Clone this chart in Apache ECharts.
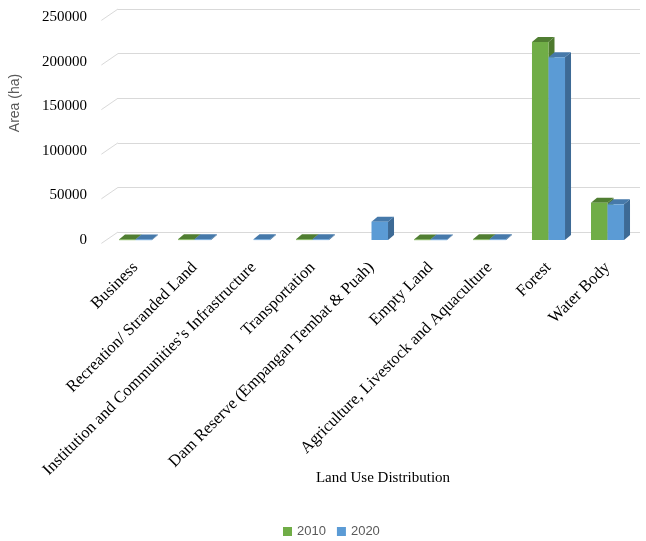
<!DOCTYPE html>
<html>
<head>
<meta charset="utf-8">
<script src="https://cdn.jsdelivr.net/npm/echarts@6/dist/echarts.min.js"></script>
<style>
html,body{margin:0;padding:0;background:#fff;}
#chart{width:646px;height:541px;}
</style>
</head>
<body>
<div id="chart"></div>
<script>
const categories = [
  'Business',
  'Recreation/ Stranded Land',
  'Institution and Communities\u2019s Infrastructure',
  'Transportation',
  'Dam Reserve (Empangan Tembat & Puah)',
  'Empty Land',
  'Agriculture, Livestock and Aquaculture',
  'Forest',
  'Water Body'
];
const values2010 = [700, 800, null, 800, null, 700, 800, 222000, 41800];
const values2020 = [700, 800, 800, 800, 20500, 700, 800, 205000, 40000];
const yTicks = [0, 50000, 100000, 150000, 200000, 250000];
const seriesNames = ['2010', '2020'];

const palette = {
  '2010': {front: '#70AD47', top: '#507E32', side: '#4E7A2E'},
  '2020': {front: '#5B9BD5', top: '#4679AA', side: '#3D6A95'}
};

function barRenderer(seriesIdx, name) {
  return function (params, api) {
    const v = api.value(1);
    if (v === null || v === undefined || isNaN(v)) return null;
    const idx = api.value(0);
    const base = api.coord([idx, 0]);
    const topPt = api.coord([idx, v]);
    const catW = api.size([1, 0])[0];
    const w = catW * 0.28;
    const dx = 6, dy = -5;
    const x = base[0] - w + seriesIdx * w;
    const y0 = base[1];
    const y1 = topPt[1];
    const c = palette[name];
    return {
      type: 'group',
      children: [
        {type: 'polygon', shape: {points: [[x + w, y1], [x + w + dx, y1 + dy], [x + w + dx, y0 + dy], [x + w, y0]]}, style: {fill: c.side}},
        {type: 'polygon', shape: {points: [[x, y1], [x + w, y1], [x + w + dx, y1 + dy], [x + dx, y1 + dy]]}, style: {fill: c.top}},
        {type: 'rect', shape: {x: x, y: y1, width: w, height: Math.max(y0 - y1, 0.8)}, style: {fill: c.front}}
      ]
    };
  };
}

const chart = echarts.init(document.getElementById('chart'), null, {renderer: 'canvas'});
const option = {
  animation: false,
  backgroundColor: '#fff',
  grid: [
    {left: 106, right: 9, top: 17, bottom: 301},
    {left: 118, right: 6, top: 9, bottom: 309}
  ],
  legend: {
    data: seriesNames,
    left: 278,
    top: 520,
    icon: 'rect',
    itemWidth: 9,
    itemHeight: 9,
    itemGap: 11,
    textStyle: {fontFamily: 'Liberation Sans', fontSize: 13, color: '#595959'}
  },
  xAxis: [
    {
      type: 'category', data: categories, gridIndex: 0,
      axisLine: {show: false}, axisTick: {show: false}, splitLine: {show: false},
      axisLabel: {rotate: 45, interval: 0, margin: 25, fontFamily: 'Liberation Serif', fontSize: 16.5, color: '#000'}
    },
    {type: 'value', gridIndex: 1, min: 0, max: 1, show: false}
  ],
  yAxis: [
    {
      type: 'value', gridIndex: 0, min: 0, max: 250000, interval: 50000,
      axisLine: {show: false}, axisTick: {show: false}, splitLine: {show: false},
      axisLabel: {margin: 19, fontFamily: 'Liberation Serif', fontSize: 15, color: '#000', formatter: function (v) { return String(v); }}
    },
    {
      type: 'value', gridIndex: 1, min: 0, max: 250000, interval: 50000,
      axisLine: {show: false}, axisTick: {show: false}, axisLabel: {show: false},
      splitLine: {show: true, lineStyle: {color: '#D9D9D9', width: 1}}
    }
  ],
  graphic: [
    {type: 'text', x: 15, y: 103, rotation: Math.PI / 2,
     style: {text: 'Area (ha)', textAlign: 'center', textVerticalAlign: 'middle', fontFamily: 'Liberation Sans', fontSize: 14, fill: '#595959'}},
    {type: 'text', x: 383, y: 478,
     style: {text: 'Land Use Distribution', textAlign: 'center', textVerticalAlign: 'middle', fontFamily: 'Liberation Serif', fontSize: 15, fill: '#000'}}
  ],
  series: [
    {
      type: 'custom', name: 'gridSlant', xAxisIndex: 1, yAxisIndex: 1, silent: true, z: 1,
      data: yTicks.map(t => [0, t]),
      renderItem: function (params, api) {
        const p = api.coord([0, api.value(1)]);
        return {type: 'line', shape: {x1: p[0] - 16.6, y1: p[1] + 11.4, x2: p[0], y2: p[1]}, style: {stroke: '#D9D9D9', lineWidth: 1}};
      }
    },
    {
      type: 'custom', name: '2010', xAxisIndex: 0, yAxisIndex: 0, z: 2,
      itemStyle: {color: palette['2010'].front},
      encode: {x: 0, y: 1},
      data: values2010.map((v, i) => [i, v]),
      renderItem: barRenderer(0, '2010')
    },
    {
      type: 'custom', name: '2020', xAxisIndex: 0, yAxisIndex: 0, z: 3,
      itemStyle: {color: palette['2020'].front},
      encode: {x: 0, y: 1},
      data: values2020.map((v, i) => [i, v]),
      renderItem: barRenderer(1, '2020')
    }
  ]
};
chart.setOption(option);
</script>
</body>
</html>
